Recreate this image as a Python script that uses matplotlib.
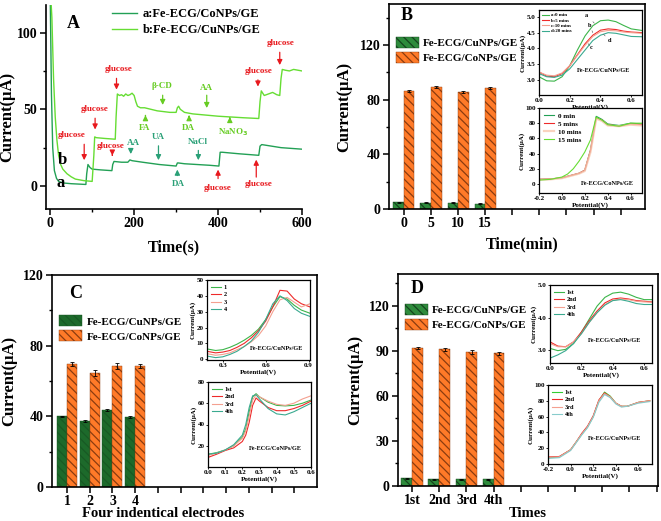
import numpy as np
import matplotlib
matplotlib.use("Agg")
import matplotlib.pyplot as plt

plt.rcParams['font.family'] = ['Liberation Serif', 'DejaVu Serif']
plt.rcParams['font.weight'] = 'bold'
plt.rcParams['axes.labelweight'] = 'bold'
plt.rcParams['hatch.linewidth'] = 0.9

# ---------------- data ----------------
# panel A: i-t curves
t_a = [0, 3, 6, 10, 15, 20, 30, 50, 85, 87, 90, 95, 100, 120, 147, 149, 152, 170, 185, 190, 195,
       220, 260, 300, 303, 306, 320, 350, 380, 402, 405, 410, 450, 497, 500, 504, 550, 600]
i_a = [125, 60, 25, 10, 5, 3, 2, 1.5, 1, 8, 14, 12, 11, 10.5, 10, 14, 16, 15.5, 15.5, 17, 16.5,
       15.5, 14, 13, 15, 15, 14.5, 14, 13.5, 13, 22, 22, 21, 20, 26, 27, 25, 24]
t_b = [0, 4, 8, 12, 16, 20, 25, 30, 40, 50, 60, 80, 100, 104, 106, 110, 130, 155, 157, 160, 165,
       170, 175, 180, 185, 190, 195, 200, 204, 208, 215, 225, 240, 255, 270, 285, 300, 303, 306,
       310, 320, 340, 360, 380, 400, 430, 460, 497, 500, 503, 510, 520, 530, 540, 547, 550, 553,
       560, 570, 580, 590, 600]
i_b = [130, 110, 70, 45, 30, 20, 14, 11, 8, 6, 4.5, 3.5, 3, 20, 32, 31.5, 31, 30.5, 45, 60, 59,
       59.5, 58.5, 60, 59, 59.5, 60.5, 59, 55, 52, 51, 51, 50, 49, 48.5, 48, 48, 51, 52,
       50, 48, 47, 46.5, 46, 45.5, 45, 44.5, 44, 55, 62, 59, 60, 61, 59.5, 59, 70, 76,
       75.5, 75, 76, 75.5, 75]
# (label, color, x_text, y_text, x_arrow, y_tail, y_tip)
notes_a = [
    ("glucose", "#e8191e", 52, 33, 81, 29, 15),
    ("glucose", "#e8191e", 143, 26, 148, 22, 18),
    ("AA", "#2aa077", 198, 28, 192, 25, 19),
    ("UA", "#2aa077", 258, 32, 258, 28, 15),
    ("DA", "#2aa077", 306, 1, 303, 5, 12.5),
    ("NaCl", "#2aa077", 353, 29, 353, 25, 15),
    ("glucose", "#e8191e", 400, -1, 400, 3, 12.5),
    ("glucose", "#e8191e", 496, 1, 491, 4, 19),
    ("glucose", "#e8191e", 107, 50, 107, 46, 35),
    ("glucose", "#e8191e", 162, 76, 158, 72, 61),
    ("FA", "#66cc22", 226, 38, 227, 44, 48),
    ("β-CD", "#66cc22", 266, 65, 268, 61, 51),
    ("DA", "#66cc22", 329, 38, 331, 43, 48),
    ("AA", "#66cc22", 373, 64, 373, 61, 49),
    ("NaNO$_3$", "#66cc22", 436, 35, 428, 42, 45),
    ("glucose", "#e8191e", 496, 75, 495, 71, 63),
    ("glucose", "#e8191e", 548, 93, 547, 89, 77),
]

# panel B: stability over time
b_labels = ["0", "5", "10", "15"]
b_cu = [5.0, 4.5, 4.5, 4.0]
b_co = [86.5, 89.5, 85.5, 88.8]
b_cu_err = [0.3, 0.3, 0.3, 0.3]
b_co_err = [0.8, 0.7, 0.8, 0.7]
b1_v = [0, 0.05, 0.1, 0.15, 0.2, 0.25, 0.3, 0.35, 0.4, 0.45, 0.5, 0.55, 0.6, 0.67]
b1_a = [3.1, 2.97, 2.96, 3.1, 3.45, 3.95, 4.4, 4.72, 4.88, 4.9, 4.85, 4.73, 4.62, 4.57]
b1_b = [3.25, 3.12, 3.1, 3.2, 3.45, 3.8, 4.15, 4.42, 4.58, 4.62, 4.6, 4.55, 4.52, 4.5]
b1_c = [3.25, 3.15, 3.13, 3.22, 3.45, 3.78, 4.1, 4.38, 4.53, 4.57, 4.56, 4.52, 4.5, 4.48]
b1_d = [3.2, 3.1, 3.08, 3.15, 3.35, 3.65, 3.95, 4.25, 4.42, 4.5, 4.48, 4.43, 4.38, 4.37]
b2_v = [-0.2, -0.1, 0.0, 0.05, 0.1, 0.15, 0.2, 0.25, 0.3, 0.35, 0.4, 0.5, 0.6, 0.7]
b2_0 = [6, 6.5, 8, 10, 12, 14, 18, 45, 89, 85, 79, 77, 80, 79]
b2_5 = [6, 6.5, 8, 10, 12, 14, 18, 44, 87, 84, 78, 76, 79, 78]
b2_10 = [5.5, 6, 7.5, 9.5, 11.5, 13.5, 17, 42, 86, 83, 77, 76, 78, 77]
b2_15 = [5, 6, 9, 13, 20, 30, 42, 58, 88, 84, 78, 76, 80, 80]

# panel C: four electrodes
c_labels = ["1", "2", "3", "4"]
c_cu = [40.0, 37.5, 43.5, 39.5]
c_co = [69.5, 64.5, 68.5, 68.5]
c_cu_err = [0.4, 0.6, 0.4, 0.5]
c_co_err = [1.2, 1.5, 1.6, 1.2]
c1_v = [0.19, 0.25, 0.3, 0.35, 0.4, 0.45, 0.5, 0.55, 0.6, 0.65, 0.7, 0.75, 0.8, 0.85, 0.91]
c1_1 = [6.5, 5.5, 6, 7.5, 9.5, 12, 15, 19, 25, 33, 39.5, 38, 34, 31, 29]
c1_2 = [5, 4, 4.5, 5.5, 7.5, 10, 13.5, 18, 24, 33, 43.5, 43, 38, 35, 33]
c1_3 = [3.5, 2.5, 3, 4, 6, 8, 11, 15, 21, 30, 37.5, 39, 36, 33, 35]
c1_4 = [2, 1, 1.5, 3, 5, 8, 11.5, 17, 25, 35, 40, 37, 32, 29, 27]
c2_v = [0, 0.05, 0.1, 0.15, 0.2, 0.22, 0.24, 0.26, 0.28, 0.3, 0.35, 0.4, 0.45, 0.5, 0.55, 0.6]
c2_1 = [12, 13.5, 16, 20, 28, 36, 52, 66, 69, 66, 61, 58, 57.5, 58, 60, 63]
c2_2 = [9, 12, 15.5, 18, 24, 30, 42, 58, 65, 62, 56, 53, 53, 55, 58, 62]
c2_3 = [11, 13, 16, 20, 27, 34, 48, 63, 68, 66, 62, 59, 58, 60, 64, 67]
c2_4 = [12, 13, 16, 21, 30, 40, 56, 67, 68, 64, 55, 50, 49, 52, 56, 60]

# panel D: repeated measurements
d_labels = ["1st", "2nd", "3rd", "4th"]
d_cu = [5.0, 4.5, 4.5, 4.5]
d_co = [91.8, 90.8, 89.3, 88.3]
d_cu_err = [0.3, 0.3, 0.3, 0.3]
d_co_err = [0.4, 1.1, 1.2, 0.9]
d1_v = [0, 0.05, 0.1, 0.15, 0.2, 0.25, 0.3, 0.35, 0.4, 0.45, 0.5, 0.55, 0.6, 0.65]
d1_1 = [3.05, 2.98, 3.02, 3.2, 3.55, 3.95, 4.35, 4.62, 4.75, 4.78, 4.72, 4.62, 4.55, 4.55]
d1_2 = [3.25, 3.12, 3.1, 3.25, 3.55, 3.9, 4.2, 4.45, 4.57, 4.6, 4.57, 4.52, 4.5, 4.48]
d1_3 = [3.2, 3.1, 3.1, 3.25, 3.5, 3.85, 4.15, 4.4, 4.53, 4.57, 4.55, 4.5, 4.48, 4.47]
d1_4 = [2.75, 2.85, 2.98, 3.2, 3.5, 3.85, 4.15, 4.38, 4.52, 4.55, 4.5, 4.43, 4.4, 4.4]
d2_v = [-0.2, -0.1, 0.0, 0.05, 0.1, 0.15, 0.2, 0.25, 0.3, 0.35, 0.4, 0.45, 0.5, 0.6, 0.7]
d2_1 = [8, 9, 18, 28, 38, 47, 60, 80, 91, 86, 77, 73, 73, 78, 80]
d2_2 = [9, 9.5, 18, 28, 39, 48, 61, 81, 90, 85, 77, 73, 73, 78, 80]
d2_3 = [8.5, 9, 18, 28, 38, 47, 60, 80, 89, 85, 77, 73, 73, 78, 80]
d2_4 = [7, 8, 17, 27, 37, 46, 59, 78, 88, 84, 76, 72, 73, 77, 79]

GREEN = "#2e8b3c"
DKGREEN = "#1d6a2b"
ORANGE = "#ff7a28"
C_GREEN, C_RED, C_PINK, C_TEAL, C_LIME = "#3cb54a", "#ee2a2a", "#f4a090", "#3aaa90", "#66dd33"
LEG_FS = 8
YLAB_FS = 12
XLAB_FS = 10.5

W, H = 661, 521
fig = plt.figure(figsize=(W / 100, H / 100), dpi=100)


def rect(l, t, r, b):
    return [l / W, 1 - b / H, (r - l) / W, (b - t) / H]


def main_style(ax, box=True):
    for s in ax.spines.values():
        s.set_linewidth(1.2)
    if not box:
        ax.spines['top'].set_visible(False)
        ax.spines['right'].set_visible(False)
    ax.tick_params(which='major', direction='out', length=4, width=1.1, labelsize=10, pad=2)
    ax.tick_params(which='minor', direction='out', length=2.5, width=1)
    for lb in ax.get_xticklabels() + ax.get_yticklabels():
        lb.set_fontweight('bold')


def inset(r, xlim, ylim, xt, yt, fmt_x, fmt_y):
    ax = fig.add_axes(rect(*r))
    ax.set_xlim(*xlim)
    ax.set_ylim(*ylim)
    ax.set_xticks(xt)
    ax.set_yticks(yt)
    ax.set_xticklabels([fmt_x.format(v) for v in xt])
    ax.set_yticklabels([fmt_y.format(v) for v in yt])
    ax.tick_params(direction='out', length=1.5, width=0.6, labelsize=5, pad=1)
    for lb in ax.get_xticklabels() + ax.get_yticklabels():
        lb.set_fontweight('bold')
    for s in ax.spines.values():
        s.set_linewidth(0.9)
    ax.set_xlabel("Potential(V)", fontsize=5, labelpad=0.5)
    ax.set_ylabel("Current(μA)", fontsize=5, labelpad=0.5)
    return ax


def small_legend(ax, fs=4.5, sp=0.25):
    ax.legend(loc='upper left', frameon=False, fontsize=fs, handlelength=1.5, labelspacing=sp,
              borderaxespad=0.3, handletextpad=0.5)


def bars(ax, cu, co, cu_err, co_err, labels, width, nticks, xlim, cu_col, cu_hatch_col):
    x = np.arange(len(cu))
    h1 = ax.bar(x - width / 2, cu, width, yerr=cu_err, color=cu_col, edgecolor=cu_hatch_col,
                linewidth=0.3, hatch='\\\\\\\\', error_kw=dict(lw=0.6, capsize=1.5, capthick=0.6))
    h2 = ax.bar(x + width / 2, co, width, yerr=co_err, color=ORANGE, edgecolor="#8a3c10",
                linewidth=0.3, hatch='\\\\\\\\', error_kw=dict(lw=0.6, capsize=1.5, capthick=0.6))
    ax.set_xticks(np.arange(nticks))
    ax.set_xticklabels(labels + [""] * (nticks - len(labels)))
    ax.set_xlim(*xlim)
    return h1, h2


def bar_legend(ax, handles, y):
    ax.legend(handles, ["Fe-ECG/CuNPs/GE", "Fe-ECG/CoNPs/GE"], loc='upper left',
              bbox_to_anchor=(0.01, y), frameon=False, fontsize=LEG_FS, handlelength=2.1,
              handleheight=1.1, labelspacing=0.35, borderaxespad=0, handletextpad=0.35)


# ---------------- panel A ----------------
axA = fig.add_axes(rect(46, 5, 302, 209))
axA.plot(t_a, i_a, color="#22a055", lw=1.0, label="a:Fe-ECG/CoNPs/GE")
axA.plot(t_b, i_b, color=C_LIME, lw=1.0, label="b:Fe-ECG/CuNPs/GE")
axA.set_xlim(-10, 600)
axA.set_ylim(-15, 118)
axA.set_xticks([0, 200, 400, 600])
axA.set_xticks([100, 300, 500], minor=True)
axA.set_yticks([0, 50, 100])
axA.set_yticks([25, 75], minor=True)
main_style(axA, box=False)
for lab, col, xt, yt, xa, y0, y1 in notes_a:
    axA.annotate("", xy=(xa, y1), xytext=(xa, y0),
                 arrowprops=dict(arrowstyle="-|>,head_length=0.3,head_width=0.15", color=col, lw=0.9))
    axA.text(xt, yt, lab, color=col, fontsize=6.5, ha='center', va='center')
axA.text(24, 2, "a", fontsize=12, ha='center', va='center')
axA.text(29, 17, "b", fontsize=12, ha='center', va='center')
axA.text(0.105, 0.91, "A", transform=axA.transAxes, fontsize=13, ha='center', va='center')
axA.legend(loc='upper left', bbox_to_anchor=(0.24, 1.01), frameon=False, fontsize=9,
           handlelength=2.0, labelspacing=0.35, borderaxespad=0, handletextpad=0.4)
axA.set_xlabel("Time(s)", fontsize=XLAB_FS + 1)
axA.set_ylabel("Current(μA)", fontsize=YLAB_FS)
axA.xaxis.set_label_coords(0.5, -0.15)
axA.yaxis.set_label_coords(-0.12, 0.45)

# ---------------- panel B ----------------
axB = fig.add_axes(rect(389, 4, 645, 209))
hb1, hb2 = bars(axB, b_cu, b_co, b_cu_err, b_co_err, b_labels, 0.39, 9, (-0.55, 8.9), GREEN, "#15451e")
axB.set_ylim(0, 150)
axB.set_yticks([0, 40, 80, 120])
axB.set_yticks([20, 60, 100, 140], minor=True)
main_style(axB)
axB.text(0.07, 0.946, "B", transform=axB.transAxes, fontsize=13, ha='center', va='center')
bar_legend(axB, [hb1, hb2], 0.86)
axB.set_xlabel("Time(min)", fontsize=XLAB_FS + 1)
axB.set_ylabel("Current(μA)", fontsize=YLAB_FS)
axB.xaxis.set_label_coords(0.52, -0.135)
axB.yaxis.set_label_coords(-0.145, 0.5)

axB1 = inset((539, 10, 642, 95), (0, 0.67), (2.52, 5.22), [0, 0.2, 0.4, 0.6],
             [3.0, 3.5, 4.0, 4.5, 5.0], "{:.1f}", "{:.1f}")
axB1.plot(b1_v, b1_a, color=C_GREEN, lw=0.8, label="a:0 min")
axB1.plot(b1_v, b1_b, color=C_RED, lw=0.8, label="b:5 mins")
axB1.plot(b1_v, b1_c, color=C_PINK, lw=0.8, label="c:10 mins")
axB1.plot(b1_v, b1_d, color=C_TEAL, lw=0.8, label="d:20 mins")
axB1.legend(loc='upper left', frameon=False, fontsize=3.5, handlelength=1.5, labelspacing=0.2,
            borderaxespad=0.2, handletextpad=0.3)
for lab, xy, xyt in [("a", (0.36, 4.8), (0.31, 5.06)), ("b", (0.35, 4.5), (0.33, 4.73)),
                     ("c", (0.32, 4.15), (0.34, 4.02)), ("d", (0.42, 4.45), (0.46, 4.24))]:
    axB1.annotate(lab, xy=xy, xytext=xyt, fontsize=4.5, ha='center', va='center',
                  arrowprops=dict(arrowstyle='-', lw=0.4, color='0.3'))
axB1.text(0.37, 0.27, "Fe-ECG/CuNPs/GE", transform=axB1.transAxes, fontsize=4.5)

axB2 = inset((539, 108, 642, 193), (-0.2, 0.7), (-12, 100), [-0.2, 0.0, 0.2, 0.4, 0.6],
             [0, 20, 40, 60, 80, 100], "{:.1f}", "{:d}")
axB2.plot(b2_v, b2_0, color="#22a055", lw=0.8, label="0 min")
axB2.plot(b2_v, b2_5, color=C_RED, lw=0.8, label="5 mins")
axB2.plot(b2_v, b2_10, color="#f8c8b0", lw=1.6, alpha=0.8, label="10 mins")
axB2.plot(b2_v, b2_15, color=C_LIME, lw=0.8, label="15 mins")
small_legend(axB2, fs=5, sp=0.3)
axB2.text(0.41, 0.1, "Fe-ECG/CoNPs/GE", transform=axB2.transAxes, fontsize=4.5)

# ---------------- panel C ----------------
axC = fig.add_axes(rect(52, 275, 317, 487))
hc1, hc2 = bars(axC, c_cu, c_co, c_cu_err, c_co_err, c_labels, 0.44, 11, (-0.66, 11.0),
                DKGREEN, "#185a24")
axC.set_ylim(0, 120)
axC.set_yticks([0, 40, 80, 120])
axC.set_yticks([20, 60, 100], minor=True)
main_style(axC)
axC.text(0.09, 0.915, "C", transform=axC.transAxes, fontsize=13, ha='center', va='center')
bar_legend(axC, [hc1, hc2], 0.83)
axC.set_xlabel("Four indentical electrodes", fontsize=XLAB_FS)
axC.set_ylabel("Current(μA)", fontsize=YLAB_FS)
axC.xaxis.set_label_coords(0.42, -0.095)
axC.yaxis.set_label_coords(-0.13, 0.5)

axC1 = inset((207, 280, 310, 360), (0.19, 0.91), (-0.5, 50), [0.3, 0.6, 0.9],
             [0, 10, 20, 30, 40, 50], "{:.1f}", "{:d}")
for yv, col, lab in [(c1_1, C_GREEN, "1"), (c1_2, C_RED, "2"), (c1_3, C_PINK, "3"), (c1_4, C_TEAL, "4")]:
    axC1.plot(c1_v, yv, color=col, lw=0.8, label=lab)
small_legend(axC1, fs=4.5, sp=0.35)
axC1.text(0.42, 0.12, "Fe-ECG/CuNPs/GE", transform=axC1.transAxes, fontsize=4.5)

axC2 = inset((208, 382, 311, 467), (0, 0.6), (0, 80), [0, 0.1, 0.2, 0.3, 0.4, 0.5, 0.6],
             [20, 40, 60, 80], "{:.1f}", "{:d}")
for yv, col, lab in [(c2_1, C_GREEN, "1st"), (c2_2, C_RED, "2nd"), (c2_3, C_PINK, "3rd"), (c2_4, C_TEAL, "4th")]:
    axC2.plot(c2_v, yv, color=col, lw=0.8, label=lab)
small_legend(axC2, fs=4.5, sp=0.35)
axC2.text(0.4, 0.2, "Fe-ECG/CoNPs/GE", transform=axC2.transAxes, fontsize=4.5)

# ---------------- panel D ----------------
axD = fig.add_axes(rect(398, 274, 658, 486))
hd1, hd2 = bars(axD, d_cu, d_co, d_cu_err, d_co_err, d_labels, 0.4, 10, (-0.52, 9.05),
                GREEN, "#15451e")
axD.set_ylim(0, 141)
axD.set_yticks([0, 30, 60, 90, 120])
axD.set_yticks([15, 45, 75, 105, 135], minor=True)
main_style(axD)
axD.text(0.075, 0.93, "D", transform=axD.transAxes, fontsize=13, ha='center', va='center')
bar_legend(axD, [hd1, hd2], 0.88)
axD.set_xlabel("Times", fontsize=XLAB_FS)
axD.set_ylabel("Current(μA)", fontsize=YLAB_FS)
axD.xaxis.set_label_coords(0.5, -0.1)
axD.yaxis.set_label_coords(-0.135, 0.5)

axD1 = inset((550, 285, 652, 363), (0, 0.65), (2.6, 5.0), [0, 0.2, 0.4, 0.6],
             [3.0, 4.0, 5.0], "{:.1f}", "{:.1f}")
for yv, col, lab in [(d1_1, C_GREEN, "1st"), (d1_2, C_RED, "2nd"), (d1_3, C_PINK, "3rd"), (d1_4, C_TEAL, "4th")]:
    axD1.plot(d1_v, yv, color=col, lw=0.8, label=lab)
small_legend(axD1, fs=4.5, sp=0.35)
axD1.text(0.37, 0.27, "Fe-ECG/CuNPs/GE", transform=axD1.transAxes, fontsize=4.5)

axD2 = inset((548, 385, 652, 464), (-0.2, 0.72), (0, 100), [-0.2, 0.0, 0.2, 0.4, 0.6],
             [0, 20, 40, 60, 80, 100], "{:.1f}", "{:d}")
for yv, col, lab in [(d2_1, "#33cc33", "1st"), (d2_2, C_RED, "2nd"), (d2_3, C_PINK, "3rd"), (d2_4, "#88cccc", "4th")]:
    axD2.plot(d2_v, yv, color=col, lw=0.8, label=lab)
small_legend(axD2, fs=4.5, sp=0.35)
axD2.text(0.38, 0.3, "Fe-ECG/CuNPs/GE", transform=axD2.transAxes, fontsize=4.5)

fig.savefig("out.png", dpi=100)
